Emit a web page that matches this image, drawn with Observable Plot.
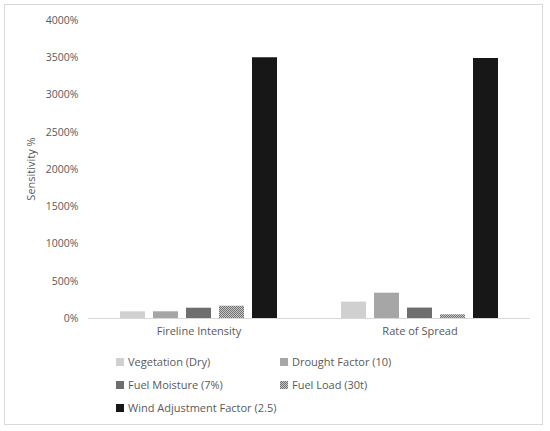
<!DOCTYPE html>
<html>
<head>
<meta charset="utf-8">
<script src="https://cdn.jsdelivr.net/npm/d3@7"></script>
<script src="https://cdn.jsdelivr.net/npm/@observablehq/plot@0.6"></script>
<style>
  body { margin: 0; background: #fff; }
  #wrap { position: relative; width: 550px; height: 431px; font-family: "Open Sans", sans-serif; color: #595959; }
  #frame { position: absolute; left: 4px; top: 4px; width: 539px; height: 421px; border: 1px solid #d9d9d9; box-sizing: border-box; }
  #chart { position: absolute; left: 0; top: 0; }
  .leg { position: absolute; font-size: 11px; line-height: 14px; white-space: nowrap; display: flex; align-items: center; }
  .sw { width: 8px; height: 8px; margin-right: 4px; display: inline-block; }
</style>
</head>
<body>
<div id="wrap">
  <div id="frame"></div>
  <div id="chart"></div>
  <div id="legend"></div>
</div>
<script>
const groups = ["Fireline Intensity", "Rate of Spread"];
const series = ["Vegetation (Dry)", "Drought Factor (10)", "Fuel Moisture (7%)", "Fuel Load (30t)", "Wind Adjustment Factor (2.5)"];
const firelineIntensity = [90, 90, 138, 165, 3500];
const rateOfSpread = [220, 340, 140, 50, 3490];
const seriesColors = ["#d0d0d0", "#a6a6a6", "#6e6e6e", "url(#checker)", "#171717"];
const yTicks = [0, 500, 1000, 1500, 2000, 2500, 3000, 3500, 4000];

const data = [];
series.forEach((s, i) => {
  data.push({group: groups[0], series: s, value: firelineIntensity[i], fill: seriesColors[i]});
  data.push({group: groups[1], series: s, value: rateOfSpread[i], fill: seriesColors[i]});
});

const defs = () => {
  const g = d3.create("svg:defs");
  const p = g.append("pattern").attr("id", "checker").attr("patternUnits", "userSpaceOnUse")
    .attr("width", 2).attr("height", 2);
  p.append("rect").attr("width", 2).attr("height", 2).attr("fill", "#c8c8c8");
  p.append("rect").attr("width", 1).attr("height", 1).attr("fill", "#707070");
  p.append("rect").attr("x", 1).attr("y", 1).attr("width", 1).attr("height", 1).attr("fill", "#707070");
  return g.node();
};

const chart = Plot.plot({
  width: 550,
  height: 345,
  marginLeft: 88,
  marginRight: 20,
  marginTop: 20,
  marginBottom: 27,
  style: {fontFamily: "'Open Sans', sans-serif", color: "#595959", background: "transparent"},
  fx: {domain: groups, padding: 0, label: null},
  x: {domain: series, paddingInner: 0.235, paddingOuter: 0.868, axis: null},
  y: {domain: [0, 4000], label: null},
  color: {type: "identity"},
  marks: [
    defs,
    Plot.axisY({ticks: yTicks, tickSize: 0, tickPadding: 10, tickFormat: d => d + "%", fontSize: 10.5, label: null}),
    Plot.axisFx({anchor: "bottom", tickSize: 0, tickPadding: 9, fontSize: 11, label: null}),
    Plot.barY(data, {fx: "group", x: "series", y: "value", fill: "fill"}),
    Plot.ruleY([0], {stroke: "#d9d9d9", strokeWidth: 1})
  ]
});
document.getElementById("chart").appendChild(chart);

// y-axis title
const svg = d3.select(chart);
svg.append("text")
  .attr("transform", "translate(35,169) rotate(-90)")
  .attr("text-anchor", "middle")
  .attr("fill", "#595959")
  .attr("font-size", 11)
  .attr("font-family", "'Open Sans', sans-serif")
  .text("Sensitivity %");

// legend
const legendPos = [[116, 355], [280, 355], [116, 378], [280, 378], [116, 401]];
const legend = document.getElementById("legend");
series.forEach((s, i) => {
  const d = document.createElement("div");
  d.className = "leg";
  d.style.left = legendPos[i][0] + "px";
  d.style.top = legendPos[i][1] + "px";
  const sw = document.createElement("span");
  sw.className = "sw";
  if (seriesColors[i].startsWith("url")) {
    sw.style.background = "repeating-conic-gradient(#707070 0% 25%, #c8c8c8 0% 50%) 0 0 / 2px 2px";
  } else {
    sw.style.background = seriesColors[i];
  }
  const t = document.createElement("span");
  t.textContent = s;
  d.appendChild(sw);
  d.appendChild(t);
  legend.appendChild(d);
});
</script>
</body>
</html>
